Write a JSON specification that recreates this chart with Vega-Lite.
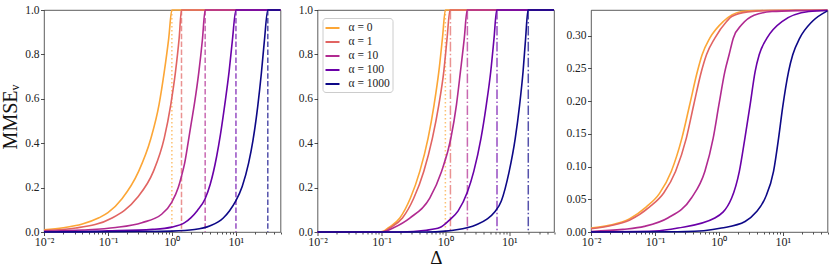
{
  "$schema": "https://vega.github.io/schema/vega-lite/v6.json",
  "background": "white",
  "padding": {"left": 0, "top": 3, "right": 5, "bottom": 3},
  "bounds": "flush",
  "spacing": 36.5,
  "config": {
    "view": {"stroke": "#333333", "strokeWidth": 0.8},
    "axis": {
      "domain": false, "grid": false,
      "labelFont": "Liberation Serif", "labelFontSize": 11.5, "labelColor": "#222222",
      "tickColor": "#222222", "tickWidth": 0.8, "tickSize": 3.5,
      "titleFont": "Liberation Serif", "titleFontWeight": "normal", "titleColor": "#111111"
    }
  },
  "resolve": {"scale": {"color": "independent", "stroke": "independent", "strokeDash": "independent", "y": "independent"}, "legend": {"color": "independent"}},
  "datasets": {
    "vlines": [
      {"p": 1, "k": "0", "s": "dot", "x": 1.0},
      {"p": 1, "k": "1", "s": "dash", "x": 1.414},
      {"p": 1, "k": "10", "s": "dash", "x": 3.317},
      {"p": 1, "k": "100", "s": "dash", "x": 10.05},
      {"p": 1, "k": "1000", "s": "dash", "x": 31.64},
      {"p": 2, "k": "0", "s": "dot", "x": 1.0},
      {"p": 2, "k": "1", "s": "dashdot", "x": 1.2},
      {"p": 2, "k": "10", "s": "dashdot", "x": 2.21},
      {"p": 2, "k": "100", "s": "dashdot", "x": 6.42},
      {"p": 2, "k": "1000", "s": "dashdot", "x": 19.8}
    ],
    "curves": [
      {"p": 1, "a": "α = 0", "x": 0.01, "y": 0.01},
      {"p": 1, "a": "α = 0", "x": 0.02, "y": 0.019},
      {"p": 1, "a": "α = 0", "x": 0.0398, "y": 0.036},
      {"p": 1, "a": "α = 0", "x": 0.0724, "y": 0.064},
      {"p": 1, "a": "α = 0", "x": 0.1, "y": 0.087},
      {"p": 1, "a": "α = 0", "x": 0.166, "y": 0.15},
      {"p": 1, "a": "α = 0", "x": 0.302, "y": 0.273},
      {"p": 1, "a": "α = 0", "x": 0.468, "y": 0.42},
      {"p": 1, "a": "α = 0", "x": 0.631, "y": 0.575},
      {"p": 1, "a": "α = 0", "x": 0.759, "y": 0.72},
      {"p": 1, "a": "α = 0", "x": 0.891, "y": 0.87},
      {"p": 1, "a": "α = 0", "x": 1.0, "y": 1.0},
      {"p": 1, "a": "α = 0", "x": 50, "y": 1.0},

      {"p": 1, "a": "α = 1", "x": 0.01, "y": 0.007},
      {"p": 1, "a": "α = 1", "x": 0.0316, "y": 0.018},
      {"p": 1, "a": "α = 1", "x": 0.116, "y": 0.063},
      {"p": 1, "a": "α = 1", "x": 0.284, "y": 0.153},
      {"p": 1, "a": "α = 1", "x": 0.514, "y": 0.273},
      {"p": 1, "a": "α = 1", "x": 0.76, "y": 0.423},
      {"p": 1, "a": "α = 1", "x": 0.96, "y": 0.573},
      {"p": 1, "a": "α = 1", "x": 1.14, "y": 0.722},
      {"p": 1, "a": "α = 1", "x": 1.30, "y": 0.873},
      {"p": 1, "a": "α = 1", "x": 1.414, "y": 1.0},
      {"p": 1, "a": "α = 1", "x": 50, "y": 1.0},

      {"p": 1, "a": "α = 10", "x": 0.01, "y": 0.004},
      {"p": 1, "a": "α = 10", "x": 0.04, "y": 0.009},
      {"p": 1, "a": "α = 10", "x": 0.132, "y": 0.02},
      {"p": 1, "a": "α = 10", "x": 0.339, "y": 0.042},
      {"p": 1, "a": "α = 10", "x": 0.692, "y": 0.08},
      {"p": 1, "a": "α = 10", "x": 1.0, "y": 0.135},
      {"p": 1, "a": "α = 10", "x": 1.259, "y": 0.2},
      {"p": 1, "a": "α = 10", "x": 1.41, "y": 0.25},
      {"p": 1, "a": "α = 10", "x": 1.585, "y": 0.31},
      {"p": 1, "a": "α = 10", "x": 1.79, "y": 0.40},
      {"p": 1, "a": "α = 10", "x": 1.995, "y": 0.485},
      {"p": 1, "a": "α = 10", "x": 2.26, "y": 0.58},
      {"p": 1, "a": "α = 10", "x": 2.64, "y": 0.72},
      {"p": 1, "a": "α = 10", "x": 3.0, "y": 0.865},
      {"p": 1, "a": "α = 10", "x": 3.317, "y": 1.0},
      {"p": 1, "a": "α = 10", "x": 50, "y": 1.0},

      {"p": 1, "a": "α = 100", "x": 0.01, "y": 0.001},
      {"p": 1, "a": "α = 100", "x": 0.1, "y": 0.005},
      {"p": 1, "a": "α = 100", "x": 0.501, "y": 0.012},
      {"p": 1, "a": "α = 100", "x": 1.0, "y": 0.022},
      {"p": 1, "a": "α = 100", "x": 1.585, "y": 0.042},
      {"p": 1, "a": "α = 100", "x": 1.995, "y": 0.065},
      {"p": 1, "a": "α = 100", "x": 2.512, "y": 0.097},
      {"p": 1, "a": "α = 100", "x": 3.311, "y": 0.15},
      {"p": 1, "a": "α = 100", "x": 3.981, "y": 0.215},
      {"p": 1, "a": "α = 100", "x": 5.012, "y": 0.34},
      {"p": 1, "a": "α = 100", "x": 5.754, "y": 0.44},
      {"p": 1, "a": "α = 100", "x": 6.73, "y": 0.575},
      {"p": 1, "a": "α = 100", "x": 7.85, "y": 0.722},
      {"p": 1, "a": "α = 100", "x": 8.85, "y": 0.865},
      {"p": 1, "a": "α = 100", "x": 10.05, "y": 1.0},
      {"p": 1, "a": "α = 100", "x": 50, "y": 1.0},

      {"p": 1, "a": "α = 1000", "x": 0.01, "y": 0.0},
      {"p": 1, "a": "α = 1000", "x": 0.316, "y": 0.002},
      {"p": 1, "a": "α = 1000", "x": 1.0, "y": 0.004},
      {"p": 1, "a": "α = 1000", "x": 2.26, "y": 0.011},
      {"p": 1, "a": "α = 1000", "x": 3.98, "y": 0.028},
      {"p": 1, "a": "α = 1000", "x": 6.31, "y": 0.062},
      {"p": 1, "a": "α = 1000", "x": 7.94, "y": 0.095},
      {"p": 1, "a": "α = 1000", "x": 10.0, "y": 0.14},
      {"p": 1, "a": "α = 1000", "x": 12.59, "y": 0.205},
      {"p": 1, "a": "α = 1000", "x": 15.85, "y": 0.31},
      {"p": 1, "a": "α = 1000", "x": 18.5, "y": 0.41},
      {"p": 1, "a": "α = 1000", "x": 22.0, "y": 0.565},
      {"p": 1, "a": "α = 1000", "x": 25.1, "y": 0.715},
      {"p": 1, "a": "α = 1000", "x": 28.0, "y": 0.862},
      {"p": 1, "a": "α = 1000", "x": 31.64, "y": 1.0},
      {"p": 1, "a": "α = 1000", "x": 50, "y": 1.0},

      {"p": 2, "a": "α = 0", "x": 0.01, "y": 0.0},
      {"p": 2, "a": "α = 0", "x": 0.089, "y": 0.0},
      {"p": 2, "a": "α = 0", "x": 0.11, "y": 0.005},
      {"p": 2, "a": "α = 0", "x": 0.127, "y": 0.018},
      {"p": 2, "a": "α = 0", "x": 0.194, "y": 0.063},
      {"p": 2, "a": "α = 0", "x": 0.284, "y": 0.153},
      {"p": 2, "a": "α = 0", "x": 0.398, "y": 0.273},
      {"p": 2, "a": "α = 0", "x": 0.537, "y": 0.423},
      {"p": 2, "a": "α = 0", "x": 0.666, "y": 0.573},
      {"p": 2, "a": "α = 0", "x": 0.79, "y": 0.722},
      {"p": 2, "a": "α = 0", "x": 0.9, "y": 0.873},
      {"p": 2, "a": "α = 0", "x": 1.0, "y": 1.0},
      {"p": 2, "a": "α = 0", "x": 50, "y": 1.0},

      {"p": 2, "a": "α = 1", "x": 0.01, "y": 0.0},
      {"p": 2, "a": "α = 1", "x": 0.095, "y": 0.0},
      {"p": 2, "a": "α = 1", "x": 0.115, "y": 0.005},
      {"p": 2, "a": "α = 1", "x": 0.135, "y": 0.018},
      {"p": 2, "a": "α = 1", "x": 0.213, "y": 0.063},
      {"p": 2, "a": "α = 1", "x": 0.321, "y": 0.153},
      {"p": 2, "a": "α = 1", "x": 0.459, "y": 0.273},
      {"p": 2, "a": "α = 1", "x": 0.627, "y": 0.423},
      {"p": 2, "a": "α = 1", "x": 0.79, "y": 0.573},
      {"p": 2, "a": "α = 1", "x": 0.944, "y": 0.722},
      {"p": 2, "a": "α = 1", "x": 1.064, "y": 0.873},
      {"p": 2, "a": "α = 1", "x": 1.18, "y": 1.0},
      {"p": 2, "a": "α = 1", "x": 50, "y": 1.0},

      {"p": 2, "a": "α = 10", "x": 0.01, "y": 0.0},
      {"p": 2, "a": "α = 10", "x": 0.1, "y": 0.0},
      {"p": 2, "a": "α = 10", "x": 0.12, "y": 0.005},
      {"p": 2, "a": "α = 10", "x": 0.152, "y": 0.018},
      {"p": 2, "a": "α = 10", "x": 0.278, "y": 0.063},
      {"p": 2, "a": "α = 10", "x": 0.57, "y": 0.153},
      {"p": 2, "a": "α = 10", "x": 0.871, "y": 0.273},
      {"p": 2, "a": "α = 10", "x": 1.22, "y": 0.423},
      {"p": 2, "a": "α = 10", "x": 1.49, "y": 0.573},
      {"p": 2, "a": "α = 10", "x": 1.72, "y": 0.722},
      {"p": 2, "a": "α = 10", "x": 1.977, "y": 0.873},
      {"p": 2, "a": "α = 10", "x": 2.19, "y": 1.0},
      {"p": 2, "a": "α = 10", "x": 50, "y": 1.0},

      {"p": 2, "a": "α = 100", "x": 0.01, "y": 0.0},
      {"p": 2, "a": "α = 100", "x": 0.2, "y": 0.0},
      {"p": 2, "a": "α = 100", "x": 0.5, "y": 0.008},
      {"p": 2, "a": "α = 100", "x": 0.82, "y": 0.02},
      {"p": 2, "a": "α = 100", "x": 1.17, "y": 0.055},
      {"p": 2, "a": "α = 100", "x": 1.585, "y": 0.095},
      {"p": 2, "a": "α = 100", "x": 2.21, "y": 0.18},
      {"p": 2, "a": "α = 100", "x": 2.78, "y": 0.273},
      {"p": 2, "a": "α = 100", "x": 3.61, "y": 0.423},
      {"p": 2, "a": "α = 100", "x": 4.37, "y": 0.573},
      {"p": 2, "a": "α = 100", "x": 5.12, "y": 0.722},
      {"p": 2, "a": "α = 100", "x": 5.77, "y": 0.873},
      {"p": 2, "a": "α = 100", "x": 6.35, "y": 1.0},
      {"p": 2, "a": "α = 100", "x": 50, "y": 1.0},

      {"p": 2, "a": "α = 1000", "x": 0.01, "y": 0.0},
      {"p": 2, "a": "α = 1000", "x": 0.5, "y": 0.0},
      {"p": 2, "a": "α = 1000", "x": 1.0, "y": 0.004},
      {"p": 2, "a": "α = 1000", "x": 1.49, "y": 0.01},
      {"p": 2, "a": "α = 1000", "x": 3.05, "y": 0.033},
      {"p": 2, "a": "α = 1000", "x": 4.47, "y": 0.058},
      {"p": 2, "a": "α = 1000", "x": 5.9, "y": 0.09},
      {"p": 2, "a": "α = 1000", "x": 7.5, "y": 0.14},
      {"p": 2, "a": "α = 1000", "x": 9.9, "y": 0.27},
      {"p": 2, "a": "α = 1000", "x": 12.4, "y": 0.423},
      {"p": 2, "a": "α = 1000", "x": 14.5, "y": 0.573},
      {"p": 2, "a": "α = 1000", "x": 16.4, "y": 0.722},
      {"p": 2, "a": "α = 1000", "x": 18.0, "y": 0.873},
      {"p": 2, "a": "α = 1000", "x": 19.6, "y": 1.0},
      {"p": 2, "a": "α = 1000", "x": 50, "y": 1.0},

      {"p": 3, "a": "α = 0", "x": 0.01, "y": 0.006},
      {"p": 3, "a": "α = 0", "x": 0.02, "y": 0.0105},
      {"p": 3, "a": "α = 0", "x": 0.0398, "y": 0.02},
      {"p": 3, "a": "α = 0", "x": 0.0726, "y": 0.038},
      {"p": 3, "a": "α = 0", "x": 0.118, "y": 0.059},
      {"p": 3, "a": "α = 0", "x": 0.18, "y": 0.0925},
      {"p": 3, "a": "α = 0", "x": 0.264, "y": 0.1434},
      {"p": 3, "a": "α = 0", "x": 0.349, "y": 0.194},
      {"p": 3, "a": "α = 0", "x": 0.461, "y": 0.245},
      {"p": 3, "a": "α = 0", "x": 0.547, "y": 0.2706},
      {"p": 3, "a": "α = 0", "x": 0.721, "y": 0.296},
      {"p": 3, "a": "α = 0", "x": 1.17, "y": 0.3214},
      {"p": 3, "a": "α = 0", "x": 2.27, "y": 0.3366},
      {"p": 3, "a": "α = 0", "x": 4.0, "y": 0.3383},
      {"p": 3, "a": "α = 0", "x": 50, "y": 0.3386},

      {"p": 3, "a": "α = 1", "x": 0.01, "y": 0.005},
      {"p": 3, "a": "α = 1", "x": 0.02, "y": 0.0095},
      {"p": 3, "a": "α = 1", "x": 0.0398, "y": 0.018},
      {"p": 3, "a": "α = 1", "x": 0.0818, "y": 0.038},
      {"p": 3, "a": "α = 1", "x": 0.138, "y": 0.06},
      {"p": 3, "a": "α = 1", "x": 0.21, "y": 0.0925},
      {"p": 3, "a": "α = 1", "x": 0.31, "y": 0.1434},
      {"p": 3, "a": "α = 1", "x": 0.404, "y": 0.194},
      {"p": 3, "a": "α = 1", "x": 0.533, "y": 0.245},
      {"p": 3, "a": "α = 1", "x": 0.64, "y": 0.2706},
      {"p": 3, "a": "α = 1", "x": 0.865, "y": 0.296},
      {"p": 3, "a": "α = 1", "x": 1.32, "y": 0.3214},
      {"p": 3, "a": "α = 1", "x": 1.585, "y": 0.329},
      {"p": 3, "a": "α = 1", "x": 2.82, "y": 0.3362},
      {"p": 3, "a": "α = 1", "x": 6.3, "y": 0.3382},
      {"p": 3, "a": "α = 1", "x": 50, "y": 0.3386},

      {"p": 3, "a": "α = 10", "x": 0.01, "y": 0.0008},
      {"p": 3, "a": "α = 10", "x": 0.0316, "y": 0.004},
      {"p": 3, "a": "α = 10", "x": 0.0684, "y": 0.0086},
      {"p": 3, "a": "α = 10", "x": 0.159, "y": 0.0214},
      {"p": 3, "a": "α = 10", "x": 0.372, "y": 0.0519},
      {"p": 3, "a": "α = 10", "x": 0.603, "y": 0.0925},
      {"p": 3, "a": "α = 10", "x": 0.815, "y": 0.1434},
      {"p": 3, "a": "α = 10", "x": 1.0, "y": 0.194},
      {"p": 3, "a": "α = 10", "x": 1.24, "y": 0.245},
      {"p": 3, "a": "α = 10", "x": 1.445, "y": 0.2706},
      {"p": 3, "a": "α = 10", "x": 1.68, "y": 0.296},
      {"p": 3, "a": "α = 10", "x": 2.27, "y": 0.3163},
      {"p": 3, "a": "α = 10", "x": 3.55, "y": 0.331},
      {"p": 3, "a": "α = 10", "x": 6.76, "y": 0.3366},
      {"p": 3, "a": "α = 10", "x": 15.8, "y": 0.3381},
      {"p": 3, "a": "α = 10", "x": 50, "y": 0.3386},

      {"p": 3, "a": "α = 100", "x": 0.01, "y": 0.0002},
      {"p": 3, "a": "α = 100", "x": 0.1, "y": 0.0015},
      {"p": 3, "a": "α = 100", "x": 0.229, "y": 0.006},
      {"p": 3, "a": "α = 100", "x": 0.865, "y": 0.0214},
      {"p": 3, "a": "α = 100", "x": 1.585, "y": 0.0519},
      {"p": 3, "a": "α = 100", "x": 2.09, "y": 0.0925},
      {"p": 3, "a": "α = 100", "x": 2.57, "y": 0.145},
      {"p": 3, "a": "α = 100", "x": 3.08, "y": 0.194},
      {"p": 3, "a": "α = 100", "x": 3.69, "y": 0.245},
      {"p": 3, "a": "α = 100", "x": 4.27, "y": 0.2706},
      {"p": 3, "a": "α = 100", "x": 5.64, "y": 0.296},
      {"p": 3, "a": "α = 100", "x": 9.7, "y": 0.3214},
      {"p": 3, "a": "α = 100", "x": 25.5, "y": 0.3366},
      {"p": 3, "a": "α = 100", "x": 50, "y": 0.3382},

      {"p": 3, "a": "α = 1000", "x": 0.01, "y": 0.0},
      {"p": 3, "a": "α = 1000", "x": 0.3, "y": 0.0005},
      {"p": 3, "a": "α = 1000", "x": 1.1, "y": 0.006},
      {"p": 3, "a": "α = 1000", "x": 2.57, "y": 0.016},
      {"p": 3, "a": "α = 1000", "x": 3.8, "y": 0.03},
      {"p": 3, "a": "α = 1000", "x": 5.3, "y": 0.0519},
      {"p": 3, "a": "α = 1000", "x": 7.16, "y": 0.0925},
      {"p": 3, "a": "α = 1000", "x": 8.59, "y": 0.1434},
      {"p": 3, "a": "α = 1000", "x": 9.93, "y": 0.19},
      {"p": 3, "a": "α = 1000", "x": 12.3, "y": 0.245},
      {"p": 3, "a": "α = 1000", "x": 14.3, "y": 0.2706},
      {"p": 3, "a": "α = 1000", "x": 18.4, "y": 0.296},
      {"p": 3, "a": "α = 1000", "x": 28.8, "y": 0.3214},
      {"p": 3, "a": "α = 1000", "x": 50, "y": 0.3377}
    ]
  },
  "hconcat": [
    {
      "width": 236.5, "height": 222,
      "layer": [
        {
          "data": {"name": "vlines"},
          "transform": [{"filter": "datum.p == 1"}],
          "mark": {"type": "rule", "strokeWidth": 1.5, "opacity": 0.7},
          "encoding": {
            "x": {"field": "x", "type": "quantitative", "scale": {"type": "log", "domain": [0.01, 50], "nice": false},
              "axis": {"title": null, "values": [0.01,0.02,0.03,0.04,0.05,0.06,0.07,0.08,0.09,0.1,0.2,0.3,0.4,0.5,0.6,0.7,0.8,0.9,1,2,3,4,5,6,7,8,9,10,20,30,40,50],
                "labelExpr": "datum.value == 0.01 ? '10⁻²' : datum.value == 0.1 ? '10⁻¹' : datum.value == 1 ? '10⁰' : datum.value == 10 ? '10¹' : ''",
                "tickSize": {"condition": {"test": "datum.value == 0.01 || datum.value == 0.1 || datum.value == 1 || datum.value == 10", "value": 3.5}, "value": 2},
                "labelFontSize": 12, "labelFlush": false, "labelOverlap": false, "labelBound": false, "labelPadding": 1}},
            "stroke": {"field": "k", "type": "nominal", "scale": {"domain": ["0","1","10","100","1000"], "range": ["#fca636","#e16462","#b12a90","#6a00a8","#0d0887"]}, "legend": null},
            "strokeDash": {"field": "s", "type": "nominal", "scale": {"domain": ["dot","dash","dashdot"], "range": [[1.5,2.5],[5.5,2.4],[9.6,2.4,1.5,2.4]]}, "legend": null}
          }
        },
        {
          "data": {"name": "curves"},
          "transform": [{"filter": "datum.p == 1"}],
          "mark": {"type": "line", "strokeWidth": 1.6, "interpolate": "monotone"},
          "encoding": {
            "x": {"field": "x", "type": "quantitative", "scale": {"type": "log", "domain": [0.01, 50], "nice": false}},
            "y": {"field": "y", "type": "quantitative", "scale": {"domain": [0, 1], "nice": false},
              "axis": {"title": "MMSEᵥ", "titleFontSize": 20, "titlePadding": 4, "titleY": 106.5, "values": [0,0.2,0.4,0.6,0.8,1], "format": ".1f", "labelPadding": 1.5}},
            "color": {"field": "a", "type": "nominal", "scale": {"domain": ["α = 0","α = 1","α = 10","α = 100","α = 1000"], "range": ["#fca636","#e16462","#b12a90","#6a00a8","#0d0887"]}, "legend": null}
          }
        }
      ]
    },
    {
      "width": 236.5, "height": 222,
      "layer": [
        {
          "data": {"name": "vlines"},
          "transform": [{"filter": "datum.p == 2"}],
          "mark": {"type": "rule", "strokeWidth": 1.5, "opacity": 0.7},
          "encoding": {
            "x": {"field": "x", "type": "quantitative", "scale": {"type": "log", "domain": [0.01, 50], "nice": false},
              "axis": {"title": "Δ", "titleFontSize": 19, "titleY": 16, "titleBaseline": "top", "values": [0.01,0.02,0.03,0.04,0.05,0.06,0.07,0.08,0.09,0.1,0.2,0.3,0.4,0.5,0.6,0.7,0.8,0.9,1,2,3,4,5,6,7,8,9,10,20,30,40,50],
                "labelExpr": "datum.value == 0.01 ? '10⁻²' : datum.value == 0.1 ? '10⁻¹' : datum.value == 1 ? '10⁰' : datum.value == 10 ? '10¹' : ''",
                "tickSize": {"condition": {"test": "datum.value == 0.01 || datum.value == 0.1 || datum.value == 1 || datum.value == 10", "value": 3.5}, "value": 2},
                "labelFontSize": 12, "labelFlush": false, "labelOverlap": false, "labelBound": false, "labelPadding": 1}},
            "stroke": {"field": "k", "type": "nominal", "scale": {"domain": ["0","1","10","100","1000"], "range": ["#fca636","#e16462","#b12a90","#6a00a8","#0d0887"]}, "legend": null},
            "strokeDash": {"field": "s", "type": "nominal", "scale": {"domain": ["dot","dash","dashdot"], "range": [[1.5,2.5],[5.5,2.4],[9.6,2.4,1.5,2.4]]}, "legend": null}
          }
        },
        {
          "data": {"name": "curves"},
          "transform": [{"filter": "datum.p == 2"}],
          "mark": {"type": "line", "strokeWidth": 1.6, "interpolate": "monotone"},
          "encoding": {
            "x": {"field": "x", "type": "quantitative", "scale": {"type": "log", "domain": [0.01, 50], "nice": false}},
            "y": {"field": "y", "type": "quantitative", "scale": {"domain": [0, 1], "nice": false},
              "axis": {"title": null, "values": [0,0.2,0.4,0.6,0.8,1], "format": ".1f", "labelPadding": 1.5}},
            "color": {"field": "a", "type": "nominal", "scale": {"domain": ["α = 0","α = 1","α = 10","α = 100","α = 1000"], "range": ["#fca636","#e16462","#b12a90","#6a00a8","#0d0887"]},
              "legend": {"orient": "none", "legendX": 5, "legendY": 8, "title": null, "symbolType": "stroke", "symbolSize": 196, "symbolStrokeWidth": 2,
                "labelFont": "Liberation Serif", "labelFontSize": 11.5, "labelColor": "#222222", "labelOffset": 8, "rowPadding": -3.8, "padding": 2,
                "strokeColor": "#cccccc", "fillColor": "white", "cornerRadius": 3}}
          }
        }
      ]
    },
    {
      "width": 236.5, "height": 222,
      "layer": [
        {
          "data": {"name": "curves"},
          "transform": [{"filter": "datum.p == 3"}],
          "mark": {"type": "line", "strokeWidth": 1.6, "interpolate": "monotone"},
          "encoding": {
            "x": {"field": "x", "type": "quantitative", "scale": {"type": "log", "domain": [0.01, 50], "nice": false},
              "axis": {"title": null, "values": [0.01,0.02,0.03,0.04,0.05,0.06,0.07,0.08,0.09,0.1,0.2,0.3,0.4,0.5,0.6,0.7,0.8,0.9,1,2,3,4,5,6,7,8,9,10,20,30,40,50],
                "labelExpr": "datum.value == 0.01 ? '10⁻²' : datum.value == 0.1 ? '10⁻¹' : datum.value == 1 ? '10⁰' : datum.value == 10 ? '10¹' : ''",
                "tickSize": {"condition": {"test": "datum.value == 0.01 || datum.value == 0.1 || datum.value == 1 || datum.value == 10", "value": 3.5}, "value": 2},
                "labelFontSize": 12, "labelFlush": false, "labelOverlap": false, "labelBound": false, "labelPadding": 1}},
            "y": {"field": "y", "type": "quantitative", "scale": {"domain": [0, 0.339], "nice": false},
              "axis": {"title": null, "values": [0,0.05,0.1,0.15,0.2,0.25,0.3], "format": ".2f", "labelPadding": 1.5}},
            "color": {"field": "a", "type": "nominal", "scale": {"domain": ["α = 0","α = 1","α = 10","α = 100","α = 1000"], "range": ["#fca636","#e16462","#b12a90","#6a00a8","#0d0887"]}, "legend": null}
          }
        }
      ]
    }
  ]
}
